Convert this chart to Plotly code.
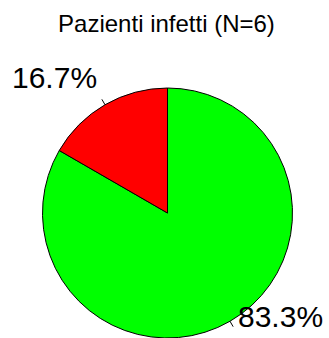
import math
import plotly.graph_objects as go

# Data
categories = ["Non infetti", "Infetti"]
counts = [5, 1]
slice_colors = ["#00FF00", "#FF0000"]
title_text = "Pazienti infetti (N=6)"

W, H = 329, 338
FONT = "Liberation Sans, Arial, sans-serif"

# Pie placement (pixels): centre and radius
cx, cy, r = 167.5, 213.0, 125.0
dom_x = [(cx - r) / W, (cx + r) / W]
dom_y = [0.0, (2 * r) / H]

fig = go.Figure(
    go.Pie(
        labels=categories,
        values=counts,
        sort=False,
        direction="clockwise",
        rotation=0,
        textinfo="none",
        hoverinfo="label+value+percent",
        marker=dict(colors=slice_colors, line=dict(color="black", width=1)),
        domain=dict(x=dom_x, y=dom_y),
        showlegend=False,
    )
)

total = sum(counts)
cum = 0.0
annotations = []
shapes = []
for cat, v in zip(categories, counts):
    mid = (cum + v / 2) / total
    cum += v
    theta = math.radians(90 - 360 * mid)
    c, s = math.cos(theta), math.sin(theta)

    def px(k):
        return (cx + k * r * c) / W, 1 - (cy - k * r * s) / H

    # small tick from the rim outwards
    x0, y0 = px(1.0)
    x1, y1 = px(1.05)
    shapes.append(dict(type="line", xref="paper", yref="paper",
                       x0=x0, y0=y0, x1=x1, y1=y1,
                       line=dict(color="black", width=1)))
    # percentage label
    lx, ly = px(1.1)
    annotations.append(dict(
        x=lx, y=ly, xref="paper", yref="paper",
        text=f"{100 * v / total:.1f}%",
        showarrow=False,
        xanchor="right" if c < 0 else "left",
        yanchor="middle",
        yshift=16,
        font=dict(size=30, color="black", family=FONT),
    ))

fig.update_layout(
    width=W, height=H,
    margin=dict(l=0, r=0, t=0, b=0),
    paper_bgcolor="white",
    plot_bgcolor="white",
    title=dict(text=title_text, x=0.506, xanchor="center",
               y=1 - 24 / H, yanchor="middle",
               font=dict(size=24, color="black", family=FONT)),
    annotations=annotations,
    shapes=shapes,
)

fig.write_html("out.html")
